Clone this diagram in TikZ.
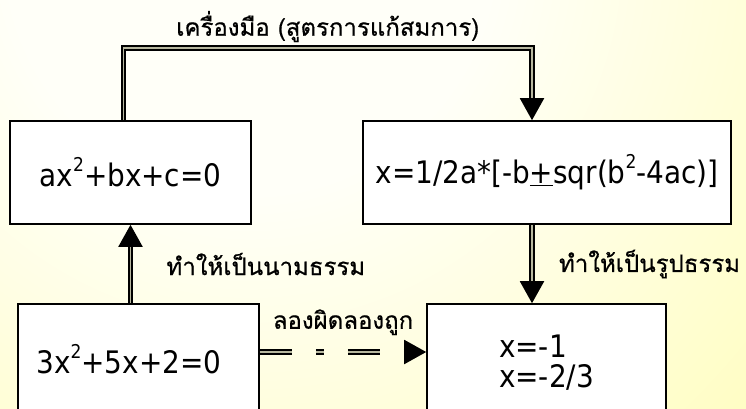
\documentclass[tikz,border=0pt]{standalone}
\usepackage{fontspec}
\setmainfont{DejaVu Sans Condensed}
\newfontfamily\thai[Script=Thai, FakeBold=0.6]{Loma}
\usetikzlibrary{arrows.meta, positioning}
\definecolor{paperin}{HTML}{FFFFF8}
\definecolor{paperout}{HTML}{FFFDBA}
\definecolor{dblgrey}{HTML}{B8B8A0}
\pgfdeclareradialshading{paper}{\pgfpoint{0bp}{0bp}}{color(0bp)=(paperin); color(8bp)=(paperin); color(25bp)=(paperout); color(50bp)=(paperout)}
% raised exponent, smaller than the box text
\newcommand\pow[1]{\raisebox{0.48em}{\fontsize{19}{19}\selectfont#1}}
\tikzset{
  every picture/.style={line width=1.6pt},
  box/.style={draw, fill=white, minimum height=103pt, inner sep=0pt, font=\fontsize{31}{30}\selectfont},
  dbl/.style={draw, line width=2pt, double=dblgrey, double distance=1.6pt},
  head/.style={-{Triangle[length=22pt, width=24pt]}},
  lbl/.style={font=\thai\fontsize{24}{28}\selectfont, inner sep=0pt},
}

\begin{document}
\begin{tikzpicture}[x=1pt, y=-1pt]
  \useasboundingbox (0,0) rectangle (746,408);
  \shade[shading=paper] (250,-50) circle (760pt);
  % the four boxes
  \node[box, minimum width=241pt] (general) at (130.5,172.5) {ax\pow{2}+bx+c=0};
  \node[box, minimum width=368pt] (formula) at (547,172.5) {x=1/2a*[-b\underline{+}sqr(b\pow{2}-4ac)]};
  \node[box, minimum height=106pt, text width=204pt, inner xsep=18.5pt, align=left,
        text height=32pt, text depth=0pt] (example) at (138.5,357) {3x\pow{2}+5x+2=0};
  \node[box, minimum width=239pt, minimum height=106pt, align=left,
        text height=60pt, text depth=0pt] (roots) at (546.5,357) {x=-1\\x=-2/3};
  % connectors
  \coordinate (toolL) at (123.5,48);
  \coordinate (toolR) at (532,48);
  \draw[dbl, head] (general.north -| toolL) -- (toolL) -- node[lbl, above=5pt] {เครื่องมือ (สูตรการแก้สมการ)} (toolR) -- (formula.north -| toolR);
  \draw[dbl, head] (example.north -| general) -- node[lbl, right=35pt] {ทำให้เป็นนามธรรม} (general.south);
  \draw[dbl, head] (formula.south -| toolR) -- node[lbl, right=26pt] {ทำให้เป็นรูปธรรม} (roots.north -| toolR);
  \draw[dbl, head, dash pattern=on 32pt off 24pt on 8pt off 24pt] ([yshift=5pt]example.east) -- node[lbl, above=16pt] {ลองผิดลองถูก} ([yshift=5pt]example.east -| roots.west);
\end{tikzpicture}
\end{document}
